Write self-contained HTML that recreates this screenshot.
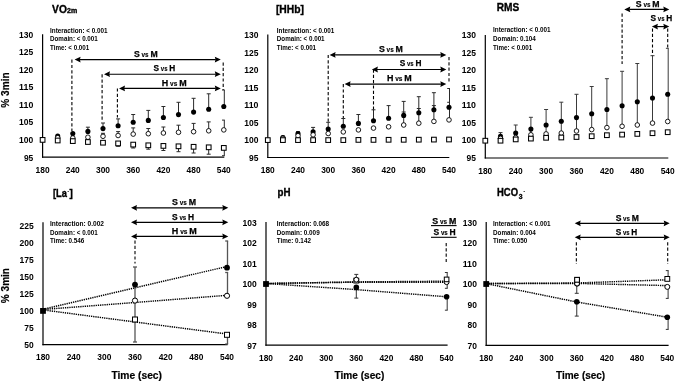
<!DOCTYPE html>
<html><head><meta charset="utf-8"><style>
html,body{margin:0;padding:0;background:#fff;width:676px;height:382px;overflow:hidden;}
svg{display:block;filter:blur(0.3px);font-family:"Liberation Sans", sans-serif;}
</style></head><body>
<svg width="676" height="382" viewBox="0 0 676 382" style="font-family:&quot;Liberation Sans&quot;, sans-serif">
<rect width="676" height="382" fill="#fff"/>
<line x1="42.60" y1="34.30" x2="42.60" y2="157.80" stroke="#000" stroke-width="1.2"/>
<line x1="42.00" y1="157.20" x2="224.30" y2="157.20" stroke="#000" stroke-width="1.2"/>
<text x="33.30" y="37.79" font-size="9.2" text-anchor="end" font-weight="bold" textLength="14.2" lengthAdjust="spacingAndGlyphs">130</text>
<text x="33.30" y="55.32" font-size="9.2" text-anchor="end" font-weight="bold" textLength="14.2" lengthAdjust="spacingAndGlyphs">125</text>
<text x="33.30" y="72.85" font-size="9.2" text-anchor="end" font-weight="bold" textLength="14.2" lengthAdjust="spacingAndGlyphs">120</text>
<text x="33.30" y="90.38" font-size="9.2" text-anchor="end" font-weight="bold" textLength="14.2" lengthAdjust="spacingAndGlyphs">115</text>
<text x="33.30" y="107.91" font-size="9.2" text-anchor="end" font-weight="bold" textLength="14.2" lengthAdjust="spacingAndGlyphs">110</text>
<text x="33.30" y="125.44" font-size="9.2" text-anchor="end" font-weight="bold" textLength="14.2" lengthAdjust="spacingAndGlyphs">105</text>
<text x="33.30" y="142.97" font-size="9.2" text-anchor="end" font-weight="bold" textLength="14.2" lengthAdjust="spacingAndGlyphs">100</text>
<text x="33.30" y="160.50" font-size="9.2" text-anchor="end" font-weight="bold" textLength="9.4" lengthAdjust="spacingAndGlyphs">95</text>
<text x="42.60" y="173.40" font-size="9.2" text-anchor="middle" font-weight="bold" textLength="14.0" lengthAdjust="spacingAndGlyphs">180</text>
<text x="72.80" y="173.40" font-size="9.2" text-anchor="middle" font-weight="bold" textLength="14.0" lengthAdjust="spacingAndGlyphs">240</text>
<text x="103.00" y="173.40" font-size="9.2" text-anchor="middle" font-weight="bold" textLength="14.0" lengthAdjust="spacingAndGlyphs">300</text>
<text x="133.20" y="173.40" font-size="9.2" text-anchor="middle" font-weight="bold" textLength="14.0" lengthAdjust="spacingAndGlyphs">360</text>
<text x="163.40" y="173.40" font-size="9.2" text-anchor="middle" font-weight="bold" textLength="14.0" lengthAdjust="spacingAndGlyphs">420</text>
<text x="193.60" y="173.40" font-size="9.2" text-anchor="middle" font-weight="bold" textLength="14.0" lengthAdjust="spacingAndGlyphs">480</text>
<text x="223.80" y="173.40" font-size="9.2" text-anchor="middle" font-weight="bold" textLength="14.0" lengthAdjust="spacingAndGlyphs">540</text>
<text x="52.10" y="13.10" font-size="10.8" text-anchor="start" font-weight="bold" textLength="14.8" lengthAdjust="spacingAndGlyphs" stroke="#000" stroke-width="0.35">VO</text>
<text x="67.00" y="13.10" font-size="7.2" text-anchor="start" font-weight="bold" textLength="10.2" lengthAdjust="spacingAndGlyphs" stroke="#000" stroke-width="0.35">2m</text>
<text x="50.00" y="32.80" font-size="6.4" text-anchor="start" font-weight="bold" textLength="57.6" lengthAdjust="spacingAndGlyphs">Interaction: &lt; 0.001</text>
<text x="50.00" y="41.35" font-size="6.4" text-anchor="start" font-weight="bold" textLength="47.8" lengthAdjust="spacingAndGlyphs">Domain: &lt; 0.001</text>
<text x="50.00" y="49.90" font-size="6.4" text-anchor="start" font-weight="bold" textLength="39.3" lengthAdjust="spacingAndGlyphs">Time: &lt; 0.001</text>
<line x1="71.90" y1="59.60" x2="71.90" y2="131.00" stroke="#000" stroke-width="1.1" stroke-dasharray="3.2 2.1"/>
<line x1="102.10" y1="74.20" x2="102.10" y2="121.00" stroke="#000" stroke-width="1.1" stroke-dasharray="3.2 2.1"/>
<line x1="117.40" y1="88.40" x2="117.40" y2="117.50" stroke="#000" stroke-width="1.1" stroke-dasharray="3.2 2.1"/>
<line x1="223.20" y1="62.50" x2="223.20" y2="90.00" stroke="#000" stroke-width="1.1" stroke-dasharray="3.2 2.1"/>
<line x1="87.90" y1="131.40" x2="87.90" y2="127.20" stroke="#2a2a2a" stroke-width="1.0"/>
<line x1="85.90" y1="127.20" x2="89.90" y2="127.20" stroke="#2a2a2a" stroke-width="1.0"/>
<line x1="103.00" y1="136.30" x2="103.00" y2="133.30" stroke="#2a2a2a" stroke-width="1.0"/>
<line x1="101.00" y1="133.30" x2="105.00" y2="133.30" stroke="#2a2a2a" stroke-width="1.0"/>
<line x1="103.00" y1="128.60" x2="103.00" y2="123.00" stroke="#2a2a2a" stroke-width="1.0"/>
<line x1="101.00" y1="123.00" x2="105.00" y2="123.00" stroke="#2a2a2a" stroke-width="1.0"/>
<line x1="118.10" y1="143.40" x2="118.10" y2="146.30" stroke="#2a2a2a" stroke-width="1.0"/>
<line x1="116.10" y1="146.30" x2="120.10" y2="146.30" stroke="#2a2a2a" stroke-width="1.0"/>
<line x1="118.10" y1="135.50" x2="118.10" y2="131.60" stroke="#2a2a2a" stroke-width="1.0"/>
<line x1="116.10" y1="131.60" x2="120.10" y2="131.60" stroke="#2a2a2a" stroke-width="1.0"/>
<line x1="118.10" y1="125.80" x2="118.10" y2="118.90" stroke="#2a2a2a" stroke-width="1.0"/>
<line x1="116.10" y1="118.90" x2="120.10" y2="118.90" stroke="#2a2a2a" stroke-width="1.0"/>
<line x1="133.20" y1="144.60" x2="133.20" y2="148.00" stroke="#2a2a2a" stroke-width="1.0"/>
<line x1="131.20" y1="148.00" x2="135.20" y2="148.00" stroke="#2a2a2a" stroke-width="1.0"/>
<line x1="133.20" y1="134.10" x2="133.20" y2="127.90" stroke="#2a2a2a" stroke-width="1.0"/>
<line x1="131.20" y1="127.90" x2="135.20" y2="127.90" stroke="#2a2a2a" stroke-width="1.0"/>
<line x1="133.20" y1="122.30" x2="133.20" y2="114.50" stroke="#2a2a2a" stroke-width="1.0"/>
<line x1="131.20" y1="114.50" x2="135.20" y2="114.50" stroke="#2a2a2a" stroke-width="1.0"/>
<line x1="148.30" y1="145.30" x2="148.30" y2="149.20" stroke="#2a2a2a" stroke-width="1.0"/>
<line x1="146.30" y1="149.20" x2="150.30" y2="149.20" stroke="#2a2a2a" stroke-width="1.0"/>
<line x1="148.30" y1="133.70" x2="148.30" y2="128.50" stroke="#2a2a2a" stroke-width="1.0"/>
<line x1="146.30" y1="128.50" x2="150.30" y2="128.50" stroke="#2a2a2a" stroke-width="1.0"/>
<line x1="148.30" y1="120.40" x2="148.30" y2="110.40" stroke="#2a2a2a" stroke-width="1.0"/>
<line x1="146.30" y1="110.40" x2="150.30" y2="110.40" stroke="#2a2a2a" stroke-width="1.0"/>
<line x1="163.40" y1="145.90" x2="163.40" y2="150.50" stroke="#2a2a2a" stroke-width="1.0"/>
<line x1="161.40" y1="150.50" x2="165.40" y2="150.50" stroke="#2a2a2a" stroke-width="1.0"/>
<line x1="163.40" y1="133.00" x2="163.40" y2="127.00" stroke="#2a2a2a" stroke-width="1.0"/>
<line x1="161.40" y1="127.00" x2="165.40" y2="127.00" stroke="#2a2a2a" stroke-width="1.0"/>
<line x1="163.40" y1="117.50" x2="163.40" y2="106.50" stroke="#2a2a2a" stroke-width="1.0"/>
<line x1="161.40" y1="106.50" x2="165.40" y2="106.50" stroke="#2a2a2a" stroke-width="1.0"/>
<line x1="178.50" y1="146.30" x2="178.50" y2="151.70" stroke="#2a2a2a" stroke-width="1.0"/>
<line x1="176.50" y1="151.70" x2="180.50" y2="151.70" stroke="#2a2a2a" stroke-width="1.0"/>
<line x1="178.50" y1="132.30" x2="178.50" y2="125.20" stroke="#2a2a2a" stroke-width="1.0"/>
<line x1="176.50" y1="125.20" x2="180.50" y2="125.20" stroke="#2a2a2a" stroke-width="1.0"/>
<line x1="178.50" y1="114.60" x2="178.50" y2="102.30" stroke="#2a2a2a" stroke-width="1.0"/>
<line x1="176.50" y1="102.30" x2="180.50" y2="102.30" stroke="#2a2a2a" stroke-width="1.0"/>
<line x1="193.60" y1="146.80" x2="193.60" y2="153.00" stroke="#2a2a2a" stroke-width="1.0"/>
<line x1="191.60" y1="153.00" x2="195.60" y2="153.00" stroke="#2a2a2a" stroke-width="1.0"/>
<line x1="193.60" y1="131.70" x2="193.60" y2="123.40" stroke="#2a2a2a" stroke-width="1.0"/>
<line x1="191.60" y1="123.40" x2="195.60" y2="123.40" stroke="#2a2a2a" stroke-width="1.0"/>
<line x1="193.60" y1="112.10" x2="193.60" y2="98.30" stroke="#2a2a2a" stroke-width="1.0"/>
<line x1="191.60" y1="98.30" x2="195.60" y2="98.30" stroke="#2a2a2a" stroke-width="1.0"/>
<line x1="208.70" y1="147.30" x2="208.70" y2="154.20" stroke="#2a2a2a" stroke-width="1.0"/>
<line x1="206.70" y1="154.20" x2="210.70" y2="154.20" stroke="#2a2a2a" stroke-width="1.0"/>
<line x1="208.70" y1="130.80" x2="208.70" y2="121.90" stroke="#2a2a2a" stroke-width="1.0"/>
<line x1="206.70" y1="121.90" x2="210.70" y2="121.90" stroke="#2a2a2a" stroke-width="1.0"/>
<line x1="208.70" y1="109.30" x2="208.70" y2="93.80" stroke="#2a2a2a" stroke-width="1.0"/>
<line x1="206.70" y1="93.80" x2="210.70" y2="93.80" stroke="#2a2a2a" stroke-width="1.0"/>
<line x1="224.30" y1="147.90" x2="224.30" y2="155.70" stroke="#2a2a2a" stroke-width="1.0"/>
<line x1="222.00" y1="155.70" x2="224.80" y2="155.70" stroke="#2a2a2a" stroke-width="1.0"/>
<line x1="224.30" y1="129.90" x2="224.30" y2="120.10" stroke="#2a2a2a" stroke-width="1.0"/>
<line x1="222.00" y1="120.10" x2="224.80" y2="120.10" stroke="#2a2a2a" stroke-width="1.0"/>
<line x1="224.30" y1="106.50" x2="224.30" y2="90.00" stroke="#2a2a2a" stroke-width="1.0"/>
<line x1="222.00" y1="90.00" x2="224.80" y2="90.00" stroke="#2a2a2a" stroke-width="1.0"/>
<circle cx="57.70" cy="136.10" r="2.55" fill="#000"/>
<circle cx="57.70" cy="137.70" r="2.3" fill="#fff" stroke="#000" stroke-width="0.9"/>
<rect x="55.35" y="138.15" width="4.7" height="4.7" fill="#fff" stroke="#000" stroke-width="1.05"/>
<circle cx="72.80" cy="133.60" r="2.55" fill="#000"/>
<circle cx="72.80" cy="138.00" r="2.3" fill="#fff" stroke="#000" stroke-width="0.9"/>
<rect x="70.45" y="138.75" width="4.7" height="4.7" fill="#fff" stroke="#000" stroke-width="1.05"/>
<circle cx="87.90" cy="131.40" r="2.55" fill="#000"/>
<circle cx="87.90" cy="137.20" r="2.3" fill="#fff" stroke="#000" stroke-width="0.9"/>
<rect x="85.55" y="139.65" width="4.7" height="4.7" fill="#fff" stroke="#000" stroke-width="1.05"/>
<circle cx="103.00" cy="128.60" r="2.55" fill="#000"/>
<circle cx="103.00" cy="136.30" r="2.3" fill="#fff" stroke="#000" stroke-width="0.9"/>
<rect x="100.65" y="140.35" width="4.7" height="4.7" fill="#fff" stroke="#000" stroke-width="1.05"/>
<circle cx="118.10" cy="125.80" r="2.55" fill="#000"/>
<circle cx="118.10" cy="135.50" r="2.3" fill="#fff" stroke="#000" stroke-width="0.9"/>
<rect x="115.75" y="141.05" width="4.7" height="4.7" fill="#fff" stroke="#000" stroke-width="1.05"/>
<circle cx="133.20" cy="122.30" r="2.55" fill="#000"/>
<circle cx="133.20" cy="134.10" r="2.3" fill="#fff" stroke="#000" stroke-width="0.9"/>
<rect x="130.85" y="142.25" width="4.7" height="4.7" fill="#fff" stroke="#000" stroke-width="1.05"/>
<circle cx="148.30" cy="120.40" r="2.55" fill="#000"/>
<circle cx="148.30" cy="133.70" r="2.3" fill="#fff" stroke="#000" stroke-width="0.9"/>
<rect x="145.95" y="142.95" width="4.7" height="4.7" fill="#fff" stroke="#000" stroke-width="1.05"/>
<circle cx="163.40" cy="117.50" r="2.55" fill="#000"/>
<circle cx="163.40" cy="133.00" r="2.3" fill="#fff" stroke="#000" stroke-width="0.9"/>
<rect x="161.05" y="143.55" width="4.7" height="4.7" fill="#fff" stroke="#000" stroke-width="1.05"/>
<circle cx="178.50" cy="114.60" r="2.55" fill="#000"/>
<circle cx="178.50" cy="132.30" r="2.3" fill="#fff" stroke="#000" stroke-width="0.9"/>
<rect x="176.15" y="143.95" width="4.7" height="4.7" fill="#fff" stroke="#000" stroke-width="1.05"/>
<circle cx="193.60" cy="112.10" r="2.55" fill="#000"/>
<circle cx="193.60" cy="131.70" r="2.3" fill="#fff" stroke="#000" stroke-width="0.9"/>
<rect x="191.25" y="144.45" width="4.7" height="4.7" fill="#fff" stroke="#000" stroke-width="1.05"/>
<circle cx="208.70" cy="109.30" r="2.55" fill="#000"/>
<circle cx="208.70" cy="130.80" r="2.3" fill="#fff" stroke="#000" stroke-width="0.9"/>
<rect x="206.35" y="144.95" width="4.7" height="4.7" fill="#fff" stroke="#000" stroke-width="1.05"/>
<circle cx="223.80" cy="106.50" r="2.55" fill="#000"/>
<circle cx="223.80" cy="129.90" r="2.3" fill="#fff" stroke="#000" stroke-width="0.9"/>
<rect x="221.45" y="145.55" width="4.7" height="4.7" fill="#fff" stroke="#000" stroke-width="1.05"/>
<rect x="40.25" y="137.55" width="4.7" height="4.7" fill="#fff" stroke="#000" stroke-width="1.05"/>
<line x1="79.60" y1="59.60" x2="215.80" y2="59.60" stroke="#000" stroke-width="1.15"/>
<path d="M74.60,59.60 L80.60,56.70 L79.90,59.60 L80.60,62.50 Z" fill="#000"/>
<path d="M220.80,59.60 L214.80,56.70 L215.50,59.60 L214.80,62.50 Z" fill="#000"/>
<line x1="109.00" y1="74.20" x2="215.80" y2="74.20" stroke="#000" stroke-width="1.15"/>
<path d="M104.00,74.20 L110.00,71.30 L109.30,74.20 L110.00,77.10 Z" fill="#000"/>
<path d="M220.80,74.20 L214.80,71.30 L215.50,74.20 L214.80,77.10 Z" fill="#000"/>
<line x1="124.00" y1="88.40" x2="215.80" y2="88.40" stroke="#000" stroke-width="1.15"/>
<path d="M119.00,88.40 L125.00,85.50 L124.30,88.40 L125.00,91.30 Z" fill="#000"/>
<path d="M220.80,88.40 L214.80,85.50 L215.50,88.40 L214.80,91.30 Z" fill="#000"/>
<text x="145.80" y="57.20" text-anchor="middle" font-weight="bold" font-size="9.0" stroke="#000" stroke-width="0.25" textLength="23.6" lengthAdjust="spacingAndGlyphs">S<tspan font-size="6.6" stroke-width="0.1"> vs </tspan>M</text>
<text x="164.40" y="71.30" text-anchor="middle" font-weight="bold" font-size="9.0" stroke="#000" stroke-width="0.25" textLength="21.6" lengthAdjust="spacingAndGlyphs">S<tspan font-size="6.6" stroke-width="0.1"> vs </tspan>H</text>
<text x="174.20" y="86.00" text-anchor="middle" font-weight="bold" font-size="9.0" stroke="#000" stroke-width="0.25" textLength="24.8" lengthAdjust="spacingAndGlyphs">H<tspan font-size="6.6" stroke-width="0.1"> vs </tspan>M</text>
<line x1="267.80" y1="34.60" x2="267.80" y2="158.10" stroke="#000" stroke-width="1.2"/>
<line x1="267.20" y1="157.50" x2="449.30" y2="157.50" stroke="#000" stroke-width="1.2"/>
<text x="258.50" y="38.09" font-size="9.2" text-anchor="end" font-weight="bold" textLength="14.2" lengthAdjust="spacingAndGlyphs">130</text>
<text x="258.50" y="55.62" font-size="9.2" text-anchor="end" font-weight="bold" textLength="14.2" lengthAdjust="spacingAndGlyphs">125</text>
<text x="258.50" y="73.15" font-size="9.2" text-anchor="end" font-weight="bold" textLength="14.2" lengthAdjust="spacingAndGlyphs">120</text>
<text x="258.50" y="90.68" font-size="9.2" text-anchor="end" font-weight="bold" textLength="14.2" lengthAdjust="spacingAndGlyphs">115</text>
<text x="258.50" y="108.21" font-size="9.2" text-anchor="end" font-weight="bold" textLength="14.2" lengthAdjust="spacingAndGlyphs">110</text>
<text x="258.50" y="125.74" font-size="9.2" text-anchor="end" font-weight="bold" textLength="14.2" lengthAdjust="spacingAndGlyphs">105</text>
<text x="258.50" y="143.27" font-size="9.2" text-anchor="end" font-weight="bold" textLength="14.2" lengthAdjust="spacingAndGlyphs">100</text>
<text x="258.50" y="160.80" font-size="9.2" text-anchor="end" font-weight="bold" textLength="9.4" lengthAdjust="spacingAndGlyphs">95</text>
<text x="267.80" y="173.40" font-size="9.2" text-anchor="middle" font-weight="bold" textLength="14.0" lengthAdjust="spacingAndGlyphs">180</text>
<text x="298.00" y="173.40" font-size="9.2" text-anchor="middle" font-weight="bold" textLength="14.0" lengthAdjust="spacingAndGlyphs">240</text>
<text x="328.20" y="173.40" font-size="9.2" text-anchor="middle" font-weight="bold" textLength="14.0" lengthAdjust="spacingAndGlyphs">300</text>
<text x="358.40" y="173.40" font-size="9.2" text-anchor="middle" font-weight="bold" textLength="14.0" lengthAdjust="spacingAndGlyphs">360</text>
<text x="388.60" y="173.40" font-size="9.2" text-anchor="middle" font-weight="bold" textLength="14.0" lengthAdjust="spacingAndGlyphs">420</text>
<text x="418.80" y="173.40" font-size="9.2" text-anchor="middle" font-weight="bold" textLength="14.0" lengthAdjust="spacingAndGlyphs">480</text>
<text x="449.00" y="173.40" font-size="9.2" text-anchor="middle" font-weight="bold" textLength="14.0" lengthAdjust="spacingAndGlyphs">540</text>
<text x="275.90" y="12.90" font-size="10.6" text-anchor="start" font-weight="bold" textLength="28.1" lengthAdjust="spacingAndGlyphs" stroke="#000" stroke-width="0.35">[HHb]</text>
<text x="276.80" y="32.80" font-size="6.4" text-anchor="start" font-weight="bold" textLength="57.6" lengthAdjust="spacingAndGlyphs">Interaction: &lt; 0.001</text>
<text x="276.80" y="41.35" font-size="6.4" text-anchor="start" font-weight="bold" textLength="47.8" lengthAdjust="spacingAndGlyphs">Domain: &lt; 0.001</text>
<text x="276.80" y="49.90" font-size="6.4" text-anchor="start" font-weight="bold" textLength="39.3" lengthAdjust="spacingAndGlyphs">Time: &lt; 0.001</text>
<line x1="328.20" y1="54.90" x2="328.20" y2="122.30" stroke="#000" stroke-width="1.1" stroke-dasharray="3.2 2.1"/>
<line x1="373.50" y1="69.50" x2="373.50" y2="109.80" stroke="#000" stroke-width="1.1" stroke-dasharray="3.2 2.1"/>
<line x1="343.30" y1="84.10" x2="343.30" y2="118.50" stroke="#000" stroke-width="1.1" stroke-dasharray="3.2 2.1"/>
<line x1="449.00" y1="57.00" x2="449.00" y2="82.00" stroke="#000" stroke-width="1.1" stroke-dasharray="3.2 2.1"/>
<line x1="282.90" y1="137.50" x2="282.90" y2="136.10" stroke="#2a2a2a" stroke-width="1.0"/>
<line x1="280.90" y1="136.10" x2="284.90" y2="136.10" stroke="#2a2a2a" stroke-width="1.0"/>
<line x1="298.00" y1="133.50" x2="298.00" y2="131.70" stroke="#2a2a2a" stroke-width="1.0"/>
<line x1="296.00" y1="131.70" x2="300.00" y2="131.70" stroke="#2a2a2a" stroke-width="1.0"/>
<line x1="313.10" y1="131.70" x2="313.10" y2="127.40" stroke="#2a2a2a" stroke-width="1.0"/>
<line x1="311.10" y1="127.40" x2="315.10" y2="127.40" stroke="#2a2a2a" stroke-width="1.0"/>
<line x1="328.20" y1="129.00" x2="328.20" y2="122.30" stroke="#2a2a2a" stroke-width="1.0"/>
<line x1="326.20" y1="122.30" x2="330.20" y2="122.30" stroke="#2a2a2a" stroke-width="1.0"/>
<line x1="343.30" y1="126.30" x2="343.30" y2="118.50" stroke="#2a2a2a" stroke-width="1.0"/>
<line x1="341.30" y1="118.50" x2="345.30" y2="118.50" stroke="#2a2a2a" stroke-width="1.0"/>
<line x1="358.40" y1="123.40" x2="358.40" y2="114.50" stroke="#2a2a2a" stroke-width="1.0"/>
<line x1="356.40" y1="114.50" x2="360.40" y2="114.50" stroke="#2a2a2a" stroke-width="1.0"/>
<line x1="373.50" y1="120.80" x2="373.50" y2="109.80" stroke="#2a2a2a" stroke-width="1.0"/>
<line x1="371.50" y1="109.80" x2="375.50" y2="109.80" stroke="#2a2a2a" stroke-width="1.0"/>
<line x1="388.60" y1="118.30" x2="388.60" y2="105.60" stroke="#2a2a2a" stroke-width="1.0"/>
<line x1="386.60" y1="105.60" x2="390.60" y2="105.60" stroke="#2a2a2a" stroke-width="1.0"/>
<line x1="403.70" y1="125.00" x2="403.70" y2="112.00" stroke="#2a2a2a" stroke-width="1.0"/>
<line x1="401.70" y1="112.00" x2="405.70" y2="112.00" stroke="#2a2a2a" stroke-width="1.0"/>
<line x1="403.70" y1="115.40" x2="403.70" y2="101.40" stroke="#2a2a2a" stroke-width="1.0"/>
<line x1="401.70" y1="101.40" x2="405.70" y2="101.40" stroke="#2a2a2a" stroke-width="1.0"/>
<line x1="418.80" y1="123.20" x2="418.80" y2="108.50" stroke="#2a2a2a" stroke-width="1.0"/>
<line x1="416.80" y1="108.50" x2="420.80" y2="108.50" stroke="#2a2a2a" stroke-width="1.0"/>
<line x1="418.80" y1="112.70" x2="418.80" y2="96.70" stroke="#2a2a2a" stroke-width="1.0"/>
<line x1="416.80" y1="96.70" x2="420.80" y2="96.70" stroke="#2a2a2a" stroke-width="1.0"/>
<line x1="433.90" y1="121.40" x2="433.90" y2="105.60" stroke="#2a2a2a" stroke-width="1.0"/>
<line x1="431.90" y1="105.60" x2="435.90" y2="105.60" stroke="#2a2a2a" stroke-width="1.0"/>
<line x1="433.90" y1="109.80" x2="433.90" y2="92.70" stroke="#2a2a2a" stroke-width="1.0"/>
<line x1="431.90" y1="92.70" x2="435.90" y2="92.70" stroke="#2a2a2a" stroke-width="1.0"/>
<line x1="449.50" y1="119.90" x2="449.50" y2="102.30" stroke="#2a2a2a" stroke-width="1.0"/>
<line x1="447.20" y1="102.30" x2="450.00" y2="102.30" stroke="#2a2a2a" stroke-width="1.0"/>
<line x1="449.50" y1="107.20" x2="449.50" y2="88.50" stroke="#2a2a2a" stroke-width="1.0"/>
<line x1="447.20" y1="88.50" x2="450.00" y2="88.50" stroke="#2a2a2a" stroke-width="1.0"/>
<circle cx="282.90" cy="137.50" r="2.55" fill="#000"/>
<circle cx="282.90" cy="138.40" r="2.3" fill="#fff" stroke="#000" stroke-width="0.9"/>
<rect x="280.55" y="137.75" width="4.7" height="4.7" fill="#fff" stroke="#000" stroke-width="1.05"/>
<circle cx="298.00" cy="133.50" r="2.55" fill="#000"/>
<circle cx="298.00" cy="135.70" r="2.3" fill="#fff" stroke="#000" stroke-width="0.9"/>
<rect x="295.65" y="137.75" width="4.7" height="4.7" fill="#fff" stroke="#000" stroke-width="1.05"/>
<circle cx="313.10" cy="131.70" r="2.55" fill="#000"/>
<circle cx="313.10" cy="134.80" r="2.3" fill="#fff" stroke="#000" stroke-width="0.9"/>
<rect x="310.75" y="137.75" width="4.7" height="4.7" fill="#fff" stroke="#000" stroke-width="1.05"/>
<circle cx="328.20" cy="129.00" r="2.55" fill="#000"/>
<circle cx="328.20" cy="133.50" r="2.3" fill="#fff" stroke="#000" stroke-width="0.9"/>
<rect x="325.85" y="137.75" width="4.7" height="4.7" fill="#fff" stroke="#000" stroke-width="1.05"/>
<circle cx="343.30" cy="126.30" r="2.55" fill="#000"/>
<circle cx="343.30" cy="131.90" r="2.3" fill="#fff" stroke="#000" stroke-width="0.9"/>
<rect x="340.95" y="137.75" width="4.7" height="4.7" fill="#fff" stroke="#000" stroke-width="1.05"/>
<circle cx="358.40" cy="123.40" r="2.55" fill="#000"/>
<circle cx="358.40" cy="129.90" r="2.3" fill="#fff" stroke="#000" stroke-width="0.9"/>
<rect x="356.05" y="137.55" width="4.7" height="4.7" fill="#fff" stroke="#000" stroke-width="1.05"/>
<circle cx="373.50" cy="120.80" r="2.55" fill="#000"/>
<circle cx="373.50" cy="128.10" r="2.3" fill="#fff" stroke="#000" stroke-width="0.9"/>
<rect x="371.15" y="137.55" width="4.7" height="4.7" fill="#fff" stroke="#000" stroke-width="1.05"/>
<circle cx="388.60" cy="118.30" r="2.55" fill="#000"/>
<circle cx="388.60" cy="126.80" r="2.3" fill="#fff" stroke="#000" stroke-width="0.9"/>
<rect x="386.25" y="137.45" width="4.7" height="4.7" fill="#fff" stroke="#000" stroke-width="1.05"/>
<circle cx="403.70" cy="115.40" r="2.55" fill="#000"/>
<circle cx="403.70" cy="125.00" r="2.3" fill="#fff" stroke="#000" stroke-width="0.9"/>
<rect x="401.35" y="137.45" width="4.7" height="4.7" fill="#fff" stroke="#000" stroke-width="1.05"/>
<circle cx="418.80" cy="112.70" r="2.55" fill="#000"/>
<circle cx="418.80" cy="123.20" r="2.3" fill="#fff" stroke="#000" stroke-width="0.9"/>
<rect x="416.45" y="137.35" width="4.7" height="4.7" fill="#fff" stroke="#000" stroke-width="1.05"/>
<circle cx="433.90" cy="109.80" r="2.55" fill="#000"/>
<circle cx="433.90" cy="121.40" r="2.3" fill="#fff" stroke="#000" stroke-width="0.9"/>
<rect x="431.55" y="137.25" width="4.7" height="4.7" fill="#fff" stroke="#000" stroke-width="1.05"/>
<circle cx="449.00" cy="107.20" r="2.55" fill="#000"/>
<circle cx="449.00" cy="119.90" r="2.3" fill="#fff" stroke="#000" stroke-width="0.9"/>
<rect x="446.65" y="137.15" width="4.7" height="4.7" fill="#fff" stroke="#000" stroke-width="1.05"/>
<rect x="265.45" y="137.75" width="4.7" height="4.7" fill="#fff" stroke="#000" stroke-width="1.05"/>
<line x1="334.60" y1="54.90" x2="441.30" y2="54.90" stroke="#000" stroke-width="1.15"/>
<path d="M329.60,54.90 L335.60,52.00 L334.90,54.90 L335.60,57.80 Z" fill="#000"/>
<path d="M446.30,54.90 L440.30,52.00 L441.00,54.90 L440.30,57.80 Z" fill="#000"/>
<line x1="376.90" y1="69.50" x2="441.30" y2="69.50" stroke="#000" stroke-width="1.15"/>
<path d="M371.90,69.50 L377.90,66.60 L377.20,69.50 L377.90,72.40 Z" fill="#000"/>
<path d="M446.30,69.50 L440.30,66.60 L441.00,69.50 L440.30,72.40 Z" fill="#000"/>
<line x1="349.60" y1="84.10" x2="441.30" y2="84.10" stroke="#000" stroke-width="1.15"/>
<path d="M344.60,84.10 L350.60,81.20 L349.90,84.10 L350.60,87.00 Z" fill="#000"/>
<path d="M446.30,84.10 L440.30,81.20 L441.00,84.10 L440.30,87.00 Z" fill="#000"/>
<text x="390.90" y="51.90" text-anchor="middle" font-weight="bold" font-size="9.0" stroke="#000" stroke-width="0.25" textLength="23.9" lengthAdjust="spacingAndGlyphs">S<tspan font-size="6.6" stroke-width="0.1"> vs </tspan>M</text>
<text x="410.60" y="65.80" text-anchor="middle" font-weight="bold" font-size="9.0" stroke="#000" stroke-width="0.25" textLength="21.6" lengthAdjust="spacingAndGlyphs">S<tspan font-size="6.6" stroke-width="0.1"> vs </tspan>H</text>
<text x="399.30" y="81.20" text-anchor="middle" font-weight="bold" font-size="9.0" stroke="#000" stroke-width="0.25" textLength="24.8" lengthAdjust="spacingAndGlyphs">H<tspan font-size="6.6" stroke-width="0.1"> vs </tspan>M</text>
<line x1="485.30" y1="35.00" x2="485.30" y2="158.60" stroke="#000" stroke-width="1.2"/>
<line x1="484.70" y1="158.00" x2="668.30" y2="158.00" stroke="#000" stroke-width="1.2"/>
<text x="476.00" y="38.19" font-size="9.2" text-anchor="end" font-weight="bold" textLength="14.2" lengthAdjust="spacingAndGlyphs">130</text>
<text x="476.00" y="55.72" font-size="9.2" text-anchor="end" font-weight="bold" textLength="14.2" lengthAdjust="spacingAndGlyphs">125</text>
<text x="476.00" y="73.25" font-size="9.2" text-anchor="end" font-weight="bold" textLength="14.2" lengthAdjust="spacingAndGlyphs">120</text>
<text x="476.00" y="90.78" font-size="9.2" text-anchor="end" font-weight="bold" textLength="14.2" lengthAdjust="spacingAndGlyphs">115</text>
<text x="476.00" y="108.31" font-size="9.2" text-anchor="end" font-weight="bold" textLength="14.2" lengthAdjust="spacingAndGlyphs">110</text>
<text x="476.00" y="125.84" font-size="9.2" text-anchor="end" font-weight="bold" textLength="14.2" lengthAdjust="spacingAndGlyphs">105</text>
<text x="476.00" y="143.37" font-size="9.2" text-anchor="end" font-weight="bold" textLength="14.2" lengthAdjust="spacingAndGlyphs">100</text>
<text x="476.00" y="160.90" font-size="9.2" text-anchor="end" font-weight="bold" textLength="9.4" lengthAdjust="spacingAndGlyphs">95</text>
<text x="485.30" y="173.50" font-size="9.2" text-anchor="middle" font-weight="bold" textLength="14.0" lengthAdjust="spacingAndGlyphs">180</text>
<text x="515.70" y="173.50" font-size="9.2" text-anchor="middle" font-weight="bold" textLength="14.0" lengthAdjust="spacingAndGlyphs">240</text>
<text x="546.10" y="173.50" font-size="9.2" text-anchor="middle" font-weight="bold" textLength="14.0" lengthAdjust="spacingAndGlyphs">300</text>
<text x="576.50" y="173.50" font-size="9.2" text-anchor="middle" font-weight="bold" textLength="14.0" lengthAdjust="spacingAndGlyphs">360</text>
<text x="606.90" y="173.50" font-size="9.2" text-anchor="middle" font-weight="bold" textLength="14.0" lengthAdjust="spacingAndGlyphs">420</text>
<text x="637.30" y="173.50" font-size="9.2" text-anchor="middle" font-weight="bold" textLength="14.0" lengthAdjust="spacingAndGlyphs">480</text>
<text x="667.70" y="173.50" font-size="9.2" text-anchor="middle" font-weight="bold" textLength="14.0" lengthAdjust="spacingAndGlyphs">540</text>
<text x="496.80" y="10.90" font-size="10.6" text-anchor="start" font-weight="bold" textLength="22.5" lengthAdjust="spacingAndGlyphs" stroke="#000" stroke-width="0.35">RMS</text>
<text x="493.00" y="32.30" font-size="6.4" text-anchor="start" font-weight="bold" textLength="57.6" lengthAdjust="spacingAndGlyphs">Interaction: &lt; 0.001</text>
<text x="493.00" y="41.00" font-size="6.4" text-anchor="start" font-weight="bold" textLength="42.8" lengthAdjust="spacingAndGlyphs">Domain: 0.104</text>
<text x="493.00" y="49.70" font-size="6.4" text-anchor="start" font-weight="bold" textLength="39.3" lengthAdjust="spacingAndGlyphs">Time: &lt; 0.001</text>
<line x1="622.10" y1="13.60" x2="622.10" y2="64.00" stroke="#000" stroke-width="1.1" stroke-dasharray="3.2 2.1"/>
<line x1="652.50" y1="28.50" x2="652.50" y2="55.60" stroke="#000" stroke-width="1.1" stroke-dasharray="3.2 2.1"/>
<line x1="667.70" y1="28.50" x2="667.70" y2="47.50" stroke="#000" stroke-width="1.1" stroke-dasharray="3.2 2.1"/>
<line x1="500.50" y1="136.40" x2="500.50" y2="132.60" stroke="#3a3a3a" stroke-width="1.0"/>
<line x1="498.50" y1="132.60" x2="502.50" y2="132.60" stroke="#3a3a3a" stroke-width="1.0"/>
<line x1="515.70" y1="133.10" x2="515.70" y2="125.00" stroke="#3a3a3a" stroke-width="1.0"/>
<line x1="513.70" y1="125.00" x2="517.70" y2="125.00" stroke="#3a3a3a" stroke-width="1.0"/>
<line x1="530.90" y1="134.80" x2="530.90" y2="129.10" stroke="#3a3a3a" stroke-width="1.0"/>
<line x1="530.90" y1="129.10" x2="530.90" y2="117.30" stroke="#3a3a3a" stroke-width="1.0"/>
<line x1="528.90" y1="117.30" x2="532.90" y2="117.30" stroke="#3a3a3a" stroke-width="1.0"/>
<line x1="546.10" y1="133.90" x2="546.10" y2="125.00" stroke="#3a3a3a" stroke-width="1.0"/>
<line x1="546.10" y1="125.00" x2="546.10" y2="109.50" stroke="#3a3a3a" stroke-width="1.0"/>
<line x1="544.10" y1="109.50" x2="548.10" y2="109.50" stroke="#3a3a3a" stroke-width="1.0"/>
<line x1="561.30" y1="133.10" x2="561.30" y2="121.20" stroke="#3a3a3a" stroke-width="1.0"/>
<line x1="561.30" y1="121.20" x2="561.30" y2="102.20" stroke="#3a3a3a" stroke-width="1.0"/>
<line x1="559.30" y1="102.20" x2="563.30" y2="102.20" stroke="#3a3a3a" stroke-width="1.0"/>
<line x1="576.50" y1="131.00" x2="576.50" y2="117.60" stroke="#3a3a3a" stroke-width="1.0"/>
<line x1="576.50" y1="117.60" x2="576.50" y2="94.30" stroke="#3a3a3a" stroke-width="1.0"/>
<line x1="574.50" y1="94.30" x2="578.50" y2="94.30" stroke="#3a3a3a" stroke-width="1.0"/>
<line x1="591.70" y1="129.60" x2="591.70" y2="113.80" stroke="#3a3a3a" stroke-width="1.0"/>
<line x1="591.70" y1="113.80" x2="591.70" y2="86.50" stroke="#3a3a3a" stroke-width="1.0"/>
<line x1="589.70" y1="86.50" x2="593.70" y2="86.50" stroke="#3a3a3a" stroke-width="1.0"/>
<line x1="606.90" y1="127.60" x2="606.90" y2="109.50" stroke="#3a3a3a" stroke-width="1.0"/>
<line x1="606.90" y1="109.50" x2="606.90" y2="78.70" stroke="#3a3a3a" stroke-width="1.0"/>
<line x1="604.90" y1="78.70" x2="608.90" y2="78.70" stroke="#3a3a3a" stroke-width="1.0"/>
<line x1="622.10" y1="126.30" x2="622.10" y2="105.80" stroke="#3a3a3a" stroke-width="1.0"/>
<line x1="622.10" y1="105.80" x2="622.10" y2="71.30" stroke="#3a3a3a" stroke-width="1.0"/>
<line x1="620.10" y1="71.30" x2="624.10" y2="71.30" stroke="#3a3a3a" stroke-width="1.0"/>
<line x1="637.30" y1="125.00" x2="637.30" y2="101.80" stroke="#3a3a3a" stroke-width="1.0"/>
<line x1="637.30" y1="101.80" x2="637.30" y2="63.50" stroke="#3a3a3a" stroke-width="1.0"/>
<line x1="635.30" y1="63.50" x2="639.30" y2="63.50" stroke="#3a3a3a" stroke-width="1.0"/>
<line x1="652.50" y1="123.10" x2="652.50" y2="98.00" stroke="#3a3a3a" stroke-width="1.0"/>
<line x1="652.50" y1="98.00" x2="652.50" y2="55.70" stroke="#3a3a3a" stroke-width="1.0"/>
<line x1="650.50" y1="55.70" x2="654.50" y2="55.70" stroke="#3a3a3a" stroke-width="1.0"/>
<line x1="668.20" y1="121.50" x2="668.20" y2="94.30" stroke="#3a3a3a" stroke-width="1.0"/>
<line x1="668.20" y1="94.30" x2="668.20" y2="48.30" stroke="#3a3a3a" stroke-width="1.0"/>
<line x1="665.90" y1="48.30" x2="668.70" y2="48.30" stroke="#3a3a3a" stroke-width="1.0"/>
<circle cx="500.50" cy="136.40" r="2.55" fill="#000"/>
<circle cx="500.50" cy="138.40" r="2.3" fill="#fff" stroke="#000" stroke-width="0.9"/>
<rect x="498.15" y="138.35" width="4.7" height="4.7" fill="#fff" stroke="#000" stroke-width="1.05"/>
<circle cx="515.70" cy="133.10" r="2.55" fill="#000"/>
<circle cx="515.70" cy="137.50" r="2.3" fill="#fff" stroke="#000" stroke-width="0.9"/>
<rect x="513.35" y="137.05" width="4.7" height="4.7" fill="#fff" stroke="#000" stroke-width="1.05"/>
<circle cx="530.90" cy="129.10" r="2.55" fill="#000"/>
<circle cx="530.90" cy="134.80" r="2.3" fill="#fff" stroke="#000" stroke-width="0.9"/>
<rect x="528.55" y="136.25" width="4.7" height="4.7" fill="#fff" stroke="#000" stroke-width="1.05"/>
<circle cx="546.10" cy="125.00" r="2.55" fill="#000"/>
<circle cx="546.10" cy="133.90" r="2.3" fill="#fff" stroke="#000" stroke-width="0.9"/>
<rect x="543.75" y="135.45" width="4.7" height="4.7" fill="#fff" stroke="#000" stroke-width="1.05"/>
<circle cx="561.30" cy="121.20" r="2.55" fill="#000"/>
<circle cx="561.30" cy="133.10" r="2.3" fill="#fff" stroke="#000" stroke-width="0.9"/>
<rect x="558.95" y="135.15" width="4.7" height="4.7" fill="#fff" stroke="#000" stroke-width="1.05"/>
<circle cx="576.50" cy="117.60" r="2.55" fill="#000"/>
<circle cx="576.50" cy="131.00" r="2.3" fill="#fff" stroke="#000" stroke-width="0.9"/>
<rect x="574.15" y="134.65" width="4.7" height="4.7" fill="#fff" stroke="#000" stroke-width="1.05"/>
<circle cx="591.70" cy="113.80" r="2.55" fill="#000"/>
<circle cx="591.70" cy="129.60" r="2.3" fill="#fff" stroke="#000" stroke-width="0.9"/>
<rect x="589.35" y="133.85" width="4.7" height="4.7" fill="#fff" stroke="#000" stroke-width="1.05"/>
<circle cx="606.90" cy="109.50" r="2.55" fill="#000"/>
<circle cx="606.90" cy="127.60" r="2.3" fill="#fff" stroke="#000" stroke-width="0.9"/>
<rect x="604.55" y="132.85" width="4.7" height="4.7" fill="#fff" stroke="#000" stroke-width="1.05"/>
<circle cx="622.10" cy="105.80" r="2.55" fill="#000"/>
<circle cx="622.10" cy="126.30" r="2.3" fill="#fff" stroke="#000" stroke-width="0.9"/>
<rect x="619.75" y="132.25" width="4.7" height="4.7" fill="#fff" stroke="#000" stroke-width="1.05"/>
<circle cx="637.30" cy="101.80" r="2.55" fill="#000"/>
<circle cx="637.30" cy="125.00" r="2.3" fill="#fff" stroke="#000" stroke-width="0.9"/>
<rect x="634.95" y="131.55" width="4.7" height="4.7" fill="#fff" stroke="#000" stroke-width="1.05"/>
<circle cx="652.50" cy="98.00" r="2.55" fill="#000"/>
<circle cx="652.50" cy="123.10" r="2.3" fill="#fff" stroke="#000" stroke-width="0.9"/>
<rect x="650.15" y="130.85" width="4.7" height="4.7" fill="#fff" stroke="#000" stroke-width="1.05"/>
<circle cx="667.70" cy="94.30" r="2.55" fill="#000"/>
<circle cx="667.70" cy="121.50" r="2.3" fill="#fff" stroke="#000" stroke-width="0.9"/>
<rect x="665.35" y="129.85" width="4.7" height="4.7" fill="#fff" stroke="#000" stroke-width="1.05"/>
<rect x="482.95" y="138.35" width="4.7" height="4.7" fill="#fff" stroke="#000" stroke-width="1.05"/>
<line x1="629.30" y1="9.40" x2="664.30" y2="9.40" stroke="#000" stroke-width="1.15"/>
<path d="M624.30,9.40 L630.30,6.50 L629.60,9.40 L630.30,12.30 Z" fill="#000"/>
<path d="M669.30,9.40 L663.30,6.50 L664.00,9.40 L663.30,12.30 Z" fill="#000"/>
<line x1="656.90" y1="26.60" x2="664.30" y2="26.60" stroke="#000" stroke-width="1.15"/>
<path d="M651.90,26.60 L657.90,23.70 L657.20,26.60 L657.90,29.50 Z" fill="#000"/>
<path d="M669.30,26.60 L663.30,23.70 L664.00,26.60 L663.30,29.50 Z" fill="#000"/>
<text x="647.70" y="6.50" text-anchor="middle" font-weight="bold" font-size="9.0" stroke="#000" stroke-width="0.25" textLength="23.8" lengthAdjust="spacingAndGlyphs">S<tspan font-size="6.6" stroke-width="0.1"> vs </tspan>M</text>
<text x="661.40" y="21.00" text-anchor="middle" font-weight="bold" font-size="9.0" stroke="#000" stroke-width="0.25" textLength="21.6" lengthAdjust="spacingAndGlyphs">S<tspan font-size="6.6" stroke-width="0.1"> vs </tspan>H</text>
<line x1="43.00" y1="222.20" x2="43.00" y2="345.30" stroke="#000" stroke-width="1.2"/>
<line x1="42.40" y1="344.70" x2="227.60" y2="344.70" stroke="#000" stroke-width="1.2"/>
<text x="33.70" y="228.60" font-size="9.2" text-anchor="end" font-weight="bold" textLength="14.2" lengthAdjust="spacingAndGlyphs">225</text>
<text x="33.70" y="245.60" font-size="9.2" text-anchor="end" font-weight="bold" textLength="14.2" lengthAdjust="spacingAndGlyphs">200</text>
<text x="33.70" y="262.60" font-size="9.2" text-anchor="end" font-weight="bold" textLength="14.2" lengthAdjust="spacingAndGlyphs">175</text>
<text x="33.70" y="279.60" font-size="9.2" text-anchor="end" font-weight="bold" textLength="14.2" lengthAdjust="spacingAndGlyphs">150</text>
<text x="33.70" y="296.60" font-size="9.2" text-anchor="end" font-weight="bold" textLength="14.2" lengthAdjust="spacingAndGlyphs">125</text>
<text x="33.70" y="313.60" font-size="9.2" text-anchor="end" font-weight="bold" textLength="14.2" lengthAdjust="spacingAndGlyphs">100</text>
<text x="33.70" y="330.60" font-size="9.2" text-anchor="end" font-weight="bold" textLength="9.4" lengthAdjust="spacingAndGlyphs">75</text>
<text x="33.70" y="347.60" font-size="9.2" text-anchor="end" font-weight="bold" textLength="9.4" lengthAdjust="spacingAndGlyphs">50</text>
<text x="43.00" y="360.40" font-size="9.2" text-anchor="middle" font-weight="bold" textLength="14.0" lengthAdjust="spacingAndGlyphs">180</text>
<text x="73.67" y="360.40" font-size="9.2" text-anchor="middle" font-weight="bold" textLength="14.0" lengthAdjust="spacingAndGlyphs">240</text>
<text x="104.33" y="360.40" font-size="9.2" text-anchor="middle" font-weight="bold" textLength="14.0" lengthAdjust="spacingAndGlyphs">300</text>
<text x="135.00" y="360.40" font-size="9.2" text-anchor="middle" font-weight="bold" textLength="14.0" lengthAdjust="spacingAndGlyphs">360</text>
<text x="165.67" y="360.40" font-size="9.2" text-anchor="middle" font-weight="bold" textLength="14.0" lengthAdjust="spacingAndGlyphs">420</text>
<text x="196.33" y="360.40" font-size="9.2" text-anchor="middle" font-weight="bold" textLength="14.0" lengthAdjust="spacingAndGlyphs">480</text>
<text x="227.00" y="360.40" font-size="9.2" text-anchor="middle" font-weight="bold" textLength="14.0" lengthAdjust="spacingAndGlyphs">540</text>
<text x="53.00" y="196.60" font-size="10.6" text-anchor="start" font-weight="bold" textLength="14.0" lengthAdjust="spacingAndGlyphs" stroke="#000" stroke-width="0.35">[La</text>
<text x="67.20" y="193.00" font-size="6.0" text-anchor="start" font-weight="bold" textLength="2.0" lengthAdjust="spacingAndGlyphs">-</text>
<text x="69.60" y="196.60" font-size="10.6" text-anchor="start" font-weight="bold" textLength="3.3" lengthAdjust="spacingAndGlyphs" stroke="#000" stroke-width="0.35">]</text>
<text x="50.00" y="226.30" font-size="6.4" text-anchor="start" font-weight="bold" textLength="54.0" lengthAdjust="spacingAndGlyphs">Interaction:  0.002</text>
<text x="50.00" y="234.85" font-size="6.4" text-anchor="start" font-weight="bold" textLength="47.8" lengthAdjust="spacingAndGlyphs">Domain: &lt; 0.001</text>
<text x="50.00" y="243.40" font-size="6.4" text-anchor="start" font-weight="bold" textLength="34.3" lengthAdjust="spacingAndGlyphs">Time: 0.546</text>
<path d="M43.00,309.30 L135.00,287.80 L227.00,266.50" fill="none" stroke="#000" stroke-width="1.45" stroke-dasharray="1.3 0.9"/>
<path d="M43.00,309.50 L135.00,302.50 L227.00,295.30" fill="none" stroke="#000" stroke-width="1.45" stroke-dasharray="1.3 0.9"/>
<path d="M43.00,309.90 L135.00,322.00 L227.00,334.00" fill="none" stroke="#000" stroke-width="1.45" stroke-dasharray="1.3 0.9"/>
<line x1="135.00" y1="240.50" x2="135.00" y2="263.50" stroke="#000" stroke-width="1.1" stroke-dasharray="3.2 2.1"/>
<line x1="135.00" y1="319.50" x2="135.00" y2="267.00" stroke="#555" stroke-width="1.3"/>
<line x1="133.00" y1="267.00" x2="137.00" y2="267.00" stroke="#555" stroke-width="1.3"/>
<line x1="135.00" y1="319.50" x2="135.00" y2="342.00" stroke="#555" stroke-width="1.3"/>
<line x1="133.00" y1="342.00" x2="137.00" y2="342.00" stroke="#555" stroke-width="1.3"/>
<line x1="227.50" y1="267.70" x2="227.50" y2="241.00" stroke="#555" stroke-width="1.3"/>
<line x1="225.20" y1="241.00" x2="228.15" y2="241.00" stroke="#555" stroke-width="1.3"/>
<line x1="227.50" y1="295.80" x2="227.50" y2="272.50" stroke="#555" stroke-width="1.3"/>
<line x1="225.20" y1="272.50" x2="228.15" y2="272.50" stroke="#555" stroke-width="1.3"/>
<line x1="227.50" y1="334.80" x2="227.50" y2="344.00" stroke="#555" stroke-width="1.3"/>
<line x1="225.20" y1="344.00" x2="228.15" y2="344.00" stroke="#555" stroke-width="1.3"/>
<circle cx="135.00" cy="284.60" r="2.9" fill="#000"/>
<circle cx="135.00" cy="300.60" r="2.6" fill="#fff" stroke="#000" stroke-width="1.0"/>
<rect x="132.50" y="317.00" width="5.0" height="5.0" fill="#fff" stroke="#000" stroke-width="1.0"/>
<circle cx="227.00" cy="267.70" r="2.9" fill="#000"/>
<circle cx="227.00" cy="295.80" r="2.6" fill="#fff" stroke="#000" stroke-width="1.0"/>
<rect x="224.50" y="332.30" width="5.0" height="5.0" fill="#fff" stroke="#000" stroke-width="1.0"/>
<rect x="40.10" y="308.00" width="5.8" height="5.8" fill="#000"/>
<line x1="136.00" y1="207.80" x2="223.30" y2="207.80" stroke="#000" stroke-width="1.15"/>
<path d="M131.00,207.80 L137.00,204.90 L136.30,207.80 L137.00,210.70 Z" fill="#000"/>
<path d="M228.30,207.80 L222.30,204.90 L223.00,207.80 L222.30,210.70 Z" fill="#000"/>
<line x1="136.00" y1="222.30" x2="223.30" y2="222.30" stroke="#000" stroke-width="1.15"/>
<path d="M131.00,222.30 L137.00,219.40 L136.30,222.30 L137.00,225.20 Z" fill="#000"/>
<path d="M228.30,222.30 L222.30,219.40 L223.00,222.30 L222.30,225.20 Z" fill="#000"/>
<line x1="136.00" y1="236.40" x2="223.30" y2="236.40" stroke="#000" stroke-width="1.15"/>
<path d="M131.00,236.40 L137.00,233.50 L136.30,236.40 L137.00,239.30 Z" fill="#000"/>
<path d="M228.30,236.40 L222.30,233.50 L223.00,236.40 L222.30,239.30 Z" fill="#000"/>
<text x="184.00" y="204.90" text-anchor="middle" font-weight="bold" font-size="9.0" stroke="#000" stroke-width="0.25" textLength="24.0" lengthAdjust="spacingAndGlyphs">S<tspan font-size="6.6" stroke-width="0.1"> vs </tspan>M</text>
<text x="183.10" y="219.50" text-anchor="middle" font-weight="bold" font-size="9.0" stroke="#000" stroke-width="0.25" textLength="22.0" lengthAdjust="spacingAndGlyphs">S<tspan font-size="6.6" stroke-width="0.1"> vs </tspan>H</text>
<text x="184.30" y="233.90" text-anchor="middle" font-weight="bold" font-size="9.0" stroke="#000" stroke-width="0.25" textLength="25.0" lengthAdjust="spacingAndGlyphs">H<tspan font-size="6.6" stroke-width="0.1"> vs </tspan>M</text>
<text x="136.70" y="379.40" font-size="11.3" text-anchor="middle" font-weight="bold" textLength="50.6" lengthAdjust="spacingAndGlyphs" stroke="#000" stroke-width="0.2">Time (sec)</text>
<line x1="266.00" y1="222.00" x2="266.00" y2="345.80" stroke="#000" stroke-width="1.2"/>
<line x1="265.40" y1="345.20" x2="447.60" y2="345.20" stroke="#000" stroke-width="1.2"/>
<text x="256.70" y="225.50" font-size="9.2" text-anchor="end" font-weight="bold" textLength="14.2" lengthAdjust="spacingAndGlyphs">103</text>
<text x="256.70" y="246.00" font-size="9.2" text-anchor="end" font-weight="bold" textLength="14.2" lengthAdjust="spacingAndGlyphs">102</text>
<text x="256.70" y="266.50" font-size="9.2" text-anchor="end" font-weight="bold" textLength="14.2" lengthAdjust="spacingAndGlyphs">101</text>
<text x="256.70" y="287.00" font-size="9.2" text-anchor="end" font-weight="bold" textLength="14.2" lengthAdjust="spacingAndGlyphs">100</text>
<text x="256.70" y="307.50" font-size="9.2" text-anchor="end" font-weight="bold" textLength="9.4" lengthAdjust="spacingAndGlyphs">99</text>
<text x="256.70" y="328.00" font-size="9.2" text-anchor="end" font-weight="bold" textLength="9.4" lengthAdjust="spacingAndGlyphs">98</text>
<text x="256.70" y="348.50" font-size="9.2" text-anchor="end" font-weight="bold" textLength="9.4" lengthAdjust="spacingAndGlyphs">97</text>
<text x="266.00" y="360.60" font-size="9.2" text-anchor="middle" font-weight="bold" textLength="14.0" lengthAdjust="spacingAndGlyphs">180</text>
<text x="296.10" y="360.60" font-size="9.2" text-anchor="middle" font-weight="bold" textLength="14.0" lengthAdjust="spacingAndGlyphs">240</text>
<text x="326.20" y="360.60" font-size="9.2" text-anchor="middle" font-weight="bold" textLength="14.0" lengthAdjust="spacingAndGlyphs">300</text>
<text x="356.30" y="360.60" font-size="9.2" text-anchor="middle" font-weight="bold" textLength="14.0" lengthAdjust="spacingAndGlyphs">360</text>
<text x="386.40" y="360.60" font-size="9.2" text-anchor="middle" font-weight="bold" textLength="14.0" lengthAdjust="spacingAndGlyphs">420</text>
<text x="416.50" y="360.60" font-size="9.2" text-anchor="middle" font-weight="bold" textLength="14.0" lengthAdjust="spacingAndGlyphs">480</text>
<text x="446.60" y="360.60" font-size="9.2" text-anchor="middle" font-weight="bold" textLength="14.0" lengthAdjust="spacingAndGlyphs">540</text>
<text x="277.60" y="195.60" font-size="10.6" text-anchor="start" font-weight="bold" textLength="13.0" lengthAdjust="spacingAndGlyphs" stroke="#000" stroke-width="0.35">pH</text>
<text x="276.70" y="226.30" font-size="6.4" text-anchor="start" font-weight="bold" textLength="52.5" lengthAdjust="spacingAndGlyphs">Interaction: 0.068</text>
<text x="276.70" y="234.85" font-size="6.4" text-anchor="start" font-weight="bold" textLength="43.0" lengthAdjust="spacingAndGlyphs">Domain: 0.009</text>
<text x="276.70" y="243.40" font-size="6.4" text-anchor="start" font-weight="bold" textLength="34.2" lengthAdjust="spacingAndGlyphs">Time: 0.142</text>
<path d="M266.00,283.50 L356.30,281.90 L446.60,281.20" fill="none" stroke="#000" stroke-width="1.45" stroke-dasharray="1.3 0.9"/>
<path d="M266.00,283.50 L356.30,282.20 L446.60,282.40" fill="none" stroke="#000" stroke-width="1.45" stroke-dasharray="1.3 0.9"/>
<path d="M266.00,283.50 L356.30,289.60 L446.60,296.80" fill="none" stroke="#000" stroke-width="1.45" stroke-dasharray="1.3 0.9"/>
<line x1="446.20" y1="243.00" x2="446.20" y2="264.00" stroke="#000" stroke-width="1.1" stroke-dasharray="3.2 2.1"/>
<line x1="356.30" y1="280.00" x2="356.30" y2="274.40" stroke="#333" stroke-width="1.0"/>
<line x1="354.30" y1="274.40" x2="358.30" y2="274.40" stroke="#333" stroke-width="1.0"/>
<line x1="356.30" y1="287.40" x2="356.30" y2="298.10" stroke="#333" stroke-width="1.0"/>
<line x1="354.30" y1="298.10" x2="358.30" y2="298.10" stroke="#333" stroke-width="1.0"/>
<line x1="447.20" y1="279.30" x2="447.20" y2="272.50" stroke="#333" stroke-width="1.0"/>
<line x1="444.90" y1="272.50" x2="447.70" y2="272.50" stroke="#333" stroke-width="1.0"/>
<line x1="447.20" y1="282.20" x2="447.20" y2="288.30" stroke="#333" stroke-width="1.0"/>
<line x1="444.90" y1="288.30" x2="447.70" y2="288.30" stroke="#333" stroke-width="1.0"/>
<line x1="447.20" y1="296.70" x2="447.20" y2="310.20" stroke="#333" stroke-width="1.0"/>
<line x1="444.90" y1="310.20" x2="447.70" y2="310.20" stroke="#333" stroke-width="1.0"/>
<circle cx="356.30" cy="287.40" r="2.8" fill="#000"/>
<rect x="353.90" y="278.20" width="4.8" height="4.8" fill="#fff" stroke="#000" stroke-width="1.0"/>
<circle cx="356.30" cy="279.70" r="2.4" fill="#fff" stroke="#000" stroke-width="1.0"/>
<circle cx="446.60" cy="282.20" r="2.4" fill="#fff" stroke="#000" stroke-width="1.0"/>
<rect x="444.30" y="277.10" width="4.6" height="4.6" fill="#fff" stroke="#000" stroke-width="1.0"/>
<circle cx="446.60" cy="296.70" r="2.8" fill="#000"/>
<rect x="263.10" y="281.10" width="5.8" height="5.8" fill="#000"/>
<text x="444.30" y="223.80" text-anchor="middle" font-weight="bold" font-size="9.0" stroke="#000" stroke-width="0.25" textLength="24.0" lengthAdjust="spacingAndGlyphs">S<tspan font-size="6.6" stroke-width="0.1"> vs </tspan>M</text>
<line x1="431.00" y1="225.60" x2="456.60" y2="225.60" stroke="#000" stroke-width="1.1"/>
<text x="444.60" y="235.30" text-anchor="middle" font-weight="bold" font-size="9.0" stroke="#000" stroke-width="0.25" textLength="22.2" lengthAdjust="spacingAndGlyphs">S<tspan font-size="6.6" stroke-width="0.1"> vs </tspan>H</text>
<line x1="431.00" y1="237.30" x2="456.60" y2="237.30" stroke="#000" stroke-width="1.1"/>
<text x="359.40" y="379.40" font-size="11.3" text-anchor="middle" font-weight="bold" textLength="49.7" lengthAdjust="spacingAndGlyphs" stroke="#000" stroke-width="0.2">Time (sec)</text>
<line x1="486.20" y1="222.00" x2="486.20" y2="345.90" stroke="#000" stroke-width="1.2"/>
<line x1="485.60" y1="345.30" x2="668.60" y2="345.30" stroke="#000" stroke-width="1.2"/>
<text x="476.90" y="225.50" font-size="9.2" text-anchor="end" font-weight="bold" textLength="14.2" lengthAdjust="spacingAndGlyphs">130</text>
<text x="476.90" y="246.00" font-size="9.2" text-anchor="end" font-weight="bold" textLength="14.2" lengthAdjust="spacingAndGlyphs">120</text>
<text x="476.90" y="266.50" font-size="9.2" text-anchor="end" font-weight="bold" textLength="14.2" lengthAdjust="spacingAndGlyphs">110</text>
<text x="476.90" y="287.00" font-size="9.2" text-anchor="end" font-weight="bold" textLength="14.2" lengthAdjust="spacingAndGlyphs">100</text>
<text x="476.90" y="307.50" font-size="9.2" text-anchor="end" font-weight="bold" textLength="9.4" lengthAdjust="spacingAndGlyphs">90</text>
<text x="476.90" y="328.00" font-size="9.2" text-anchor="end" font-weight="bold" textLength="9.4" lengthAdjust="spacingAndGlyphs">80</text>
<text x="476.90" y="348.50" font-size="9.2" text-anchor="end" font-weight="bold" textLength="9.4" lengthAdjust="spacingAndGlyphs">70</text>
<text x="486.20" y="360.60" font-size="9.2" text-anchor="middle" font-weight="bold" textLength="14.0" lengthAdjust="spacingAndGlyphs">180</text>
<text x="516.38" y="360.60" font-size="9.2" text-anchor="middle" font-weight="bold" textLength="14.0" lengthAdjust="spacingAndGlyphs">240</text>
<text x="546.57" y="360.60" font-size="9.2" text-anchor="middle" font-weight="bold" textLength="14.0" lengthAdjust="spacingAndGlyphs">300</text>
<text x="576.75" y="360.60" font-size="9.2" text-anchor="middle" font-weight="bold" textLength="14.0" lengthAdjust="spacingAndGlyphs">360</text>
<text x="606.93" y="360.60" font-size="9.2" text-anchor="middle" font-weight="bold" textLength="14.0" lengthAdjust="spacingAndGlyphs">420</text>
<text x="637.12" y="360.60" font-size="9.2" text-anchor="middle" font-weight="bold" textLength="14.0" lengthAdjust="spacingAndGlyphs">480</text>
<text x="667.30" y="360.60" font-size="9.2" text-anchor="middle" font-weight="bold" textLength="14.0" lengthAdjust="spacingAndGlyphs">540</text>
<text x="497.00" y="195.70" font-size="10.6" text-anchor="start" font-weight="bold" textLength="21.0" lengthAdjust="spacingAndGlyphs" stroke="#000" stroke-width="0.35">HCO</text>
<text x="518.70" y="198.60" font-size="7.0" text-anchor="start" font-weight="bold" textLength="3.8" lengthAdjust="spacingAndGlyphs" stroke="#000" stroke-width="0.35">3</text>
<text x="523.30" y="192.50" font-size="6.0" text-anchor="start" font-weight="bold" textLength="2.0" lengthAdjust="spacingAndGlyphs">-</text>
<text x="493.00" y="226.30" font-size="6.4" text-anchor="start" font-weight="bold" textLength="57.6" lengthAdjust="spacingAndGlyphs">Interaction: &lt; 0.001</text>
<text x="493.00" y="234.85" font-size="6.4" text-anchor="start" font-weight="bold" textLength="42.8" lengthAdjust="spacingAndGlyphs">Domain: 0.004</text>
<text x="493.00" y="243.40" font-size="6.4" text-anchor="start" font-weight="bold" textLength="34.3" lengthAdjust="spacingAndGlyphs">Time: 0.050</text>
<path d="M486.20,283.60 L576.75,283.00 L667.30,279.80" fill="none" stroke="#000" stroke-width="1.45" stroke-dasharray="1.3 0.9"/>
<path d="M486.20,283.60 L576.75,283.40 L667.30,285.60" fill="none" stroke="#000" stroke-width="1.45" stroke-dasharray="1.3 0.9"/>
<path d="M486.20,283.60 L576.75,302.00 L667.30,317.20" fill="none" stroke="#000" stroke-width="1.45" stroke-dasharray="1.3 0.9"/>
<line x1="576.35" y1="242.30" x2="576.35" y2="264.00" stroke="#000" stroke-width="1.1" stroke-dasharray="3.2 2.1"/>
<line x1="667.70" y1="242.30" x2="667.70" y2="264.00" stroke="#000" stroke-width="1.1" stroke-dasharray="3.2 2.1"/>
<line x1="576.75" y1="283.50" x2="576.75" y2="293.30" stroke="#333" stroke-width="1.0"/>
<line x1="574.75" y1="293.30" x2="578.75" y2="293.30" stroke="#333" stroke-width="1.0"/>
<line x1="576.75" y1="301.70" x2="576.75" y2="316.10" stroke="#333" stroke-width="1.0"/>
<line x1="574.75" y1="316.10" x2="578.75" y2="316.10" stroke="#333" stroke-width="1.0"/>
<line x1="668.10" y1="278.90" x2="668.10" y2="270.60" stroke="#333" stroke-width="1.0"/>
<line x1="665.80" y1="270.60" x2="668.60" y2="270.60" stroke="#333" stroke-width="1.0"/>
<line x1="668.10" y1="286.90" x2="668.10" y2="298.40" stroke="#333" stroke-width="1.0"/>
<line x1="665.80" y1="298.40" x2="668.60" y2="298.40" stroke="#333" stroke-width="1.0"/>
<line x1="668.10" y1="317.20" x2="668.10" y2="329.40" stroke="#333" stroke-width="1.0"/>
<line x1="665.80" y1="329.40" x2="668.60" y2="329.40" stroke="#333" stroke-width="1.0"/>
<circle cx="576.75" cy="301.70" r="2.8" fill="#000"/>
<circle cx="577.05" cy="283.60" r="2.5" fill="#fff" stroke="#000" stroke-width="1.1"/>
<rect x="574.65" y="277.40" width="4.8" height="4.8" fill="#fff" stroke="#000" stroke-width="1.1"/>
<circle cx="667.30" cy="317.20" r="2.8" fill="#000"/>
<circle cx="667.30" cy="286.90" r="2.5" fill="#fff" stroke="#000" stroke-width="1.0"/>
<rect x="664.90" y="276.50" width="4.8" height="4.8" fill="#fff" stroke="#000" stroke-width="1.0"/>
<rect x="483.30" y="281.10" width="5.8" height="5.8" fill="#000"/>
<line x1="579.70" y1="223.30" x2="664.70" y2="223.30" stroke="#000" stroke-width="1.15"/>
<path d="M574.70,223.30 L580.70,220.40 L580.00,223.30 L580.70,226.20 Z" fill="#000"/>
<path d="M669.70,223.30 L663.70,220.40 L664.40,223.30 L663.70,226.20 Z" fill="#000"/>
<line x1="579.70" y1="237.30" x2="664.70" y2="237.30" stroke="#000" stroke-width="1.15"/>
<path d="M574.70,237.30 L580.70,234.40 L580.00,237.30 L580.70,240.20 Z" fill="#000"/>
<path d="M669.70,237.30 L663.70,234.40 L664.40,237.30 L663.70,240.20 Z" fill="#000"/>
<text x="627.30" y="220.70" text-anchor="middle" font-weight="bold" font-size="9.0" stroke="#000" stroke-width="0.25" textLength="23.3" lengthAdjust="spacingAndGlyphs">S<tspan font-size="6.6" stroke-width="0.1"> vs </tspan>M</text>
<text x="626.50" y="234.80" text-anchor="middle" font-weight="bold" font-size="9.0" stroke="#000" stroke-width="0.25" textLength="21.5" lengthAdjust="spacingAndGlyphs">S<tspan font-size="6.6" stroke-width="0.1"> vs </tspan>H</text>
<text x="580.60" y="379.40" font-size="11.3" text-anchor="middle" font-weight="bold" textLength="49.2" lengthAdjust="spacingAndGlyphs" stroke="#000" stroke-width="0.2">Time (sec)</text>
<text transform="translate(8.6,90) rotate(-90)" text-anchor="middle" font-size="10.6" font-weight="bold" stroke="#000" stroke-width="0.2" textLength="35.3" lengthAdjust="spacingAndGlyphs">% 3min</text>
<text transform="translate(8.9,285.6) rotate(-90)" text-anchor="middle" font-size="10.6" font-weight="bold" stroke="#000" stroke-width="0.2" textLength="35.1" lengthAdjust="spacingAndGlyphs">% 3min</text>
</svg>
</body></html>
